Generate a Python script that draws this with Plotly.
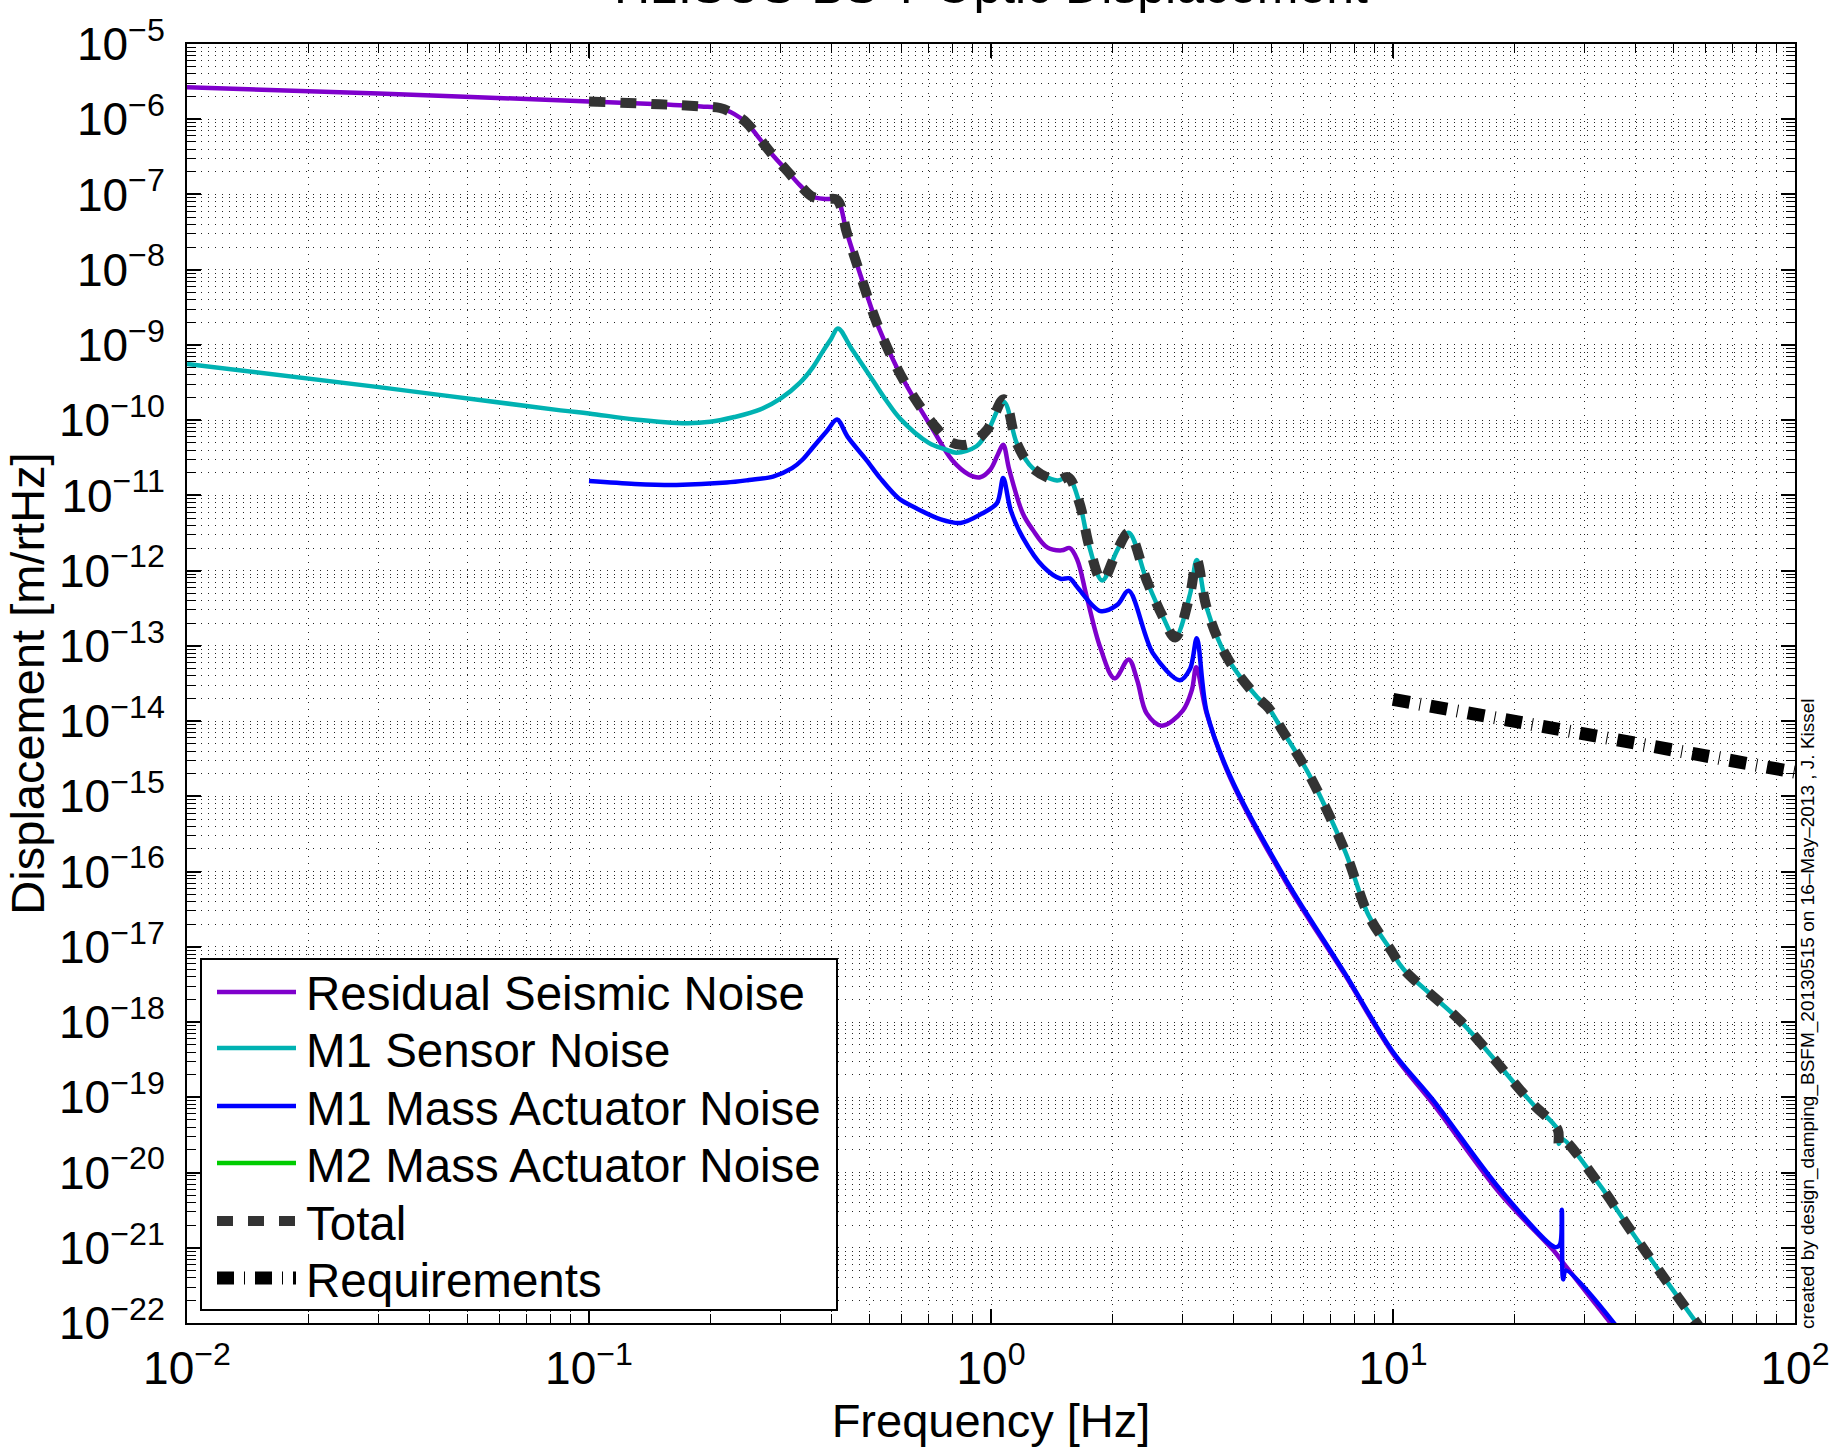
import plotly.graph_objects as go

# ---------------- data ----------------
seis_f = [0.01, 0.03, 0.1, 0.15, 0.19, 0.212, 0.23, 0.247, 0.265, 0.287, 0.31, 0.335, 0.36, 0.39, 0.414,
          0.438, 0.472, 0.52, 0.583, 0.64, 0.718, 0.80, 0.88, 0.94, 0.995, 1.04, 1.072, 1.11, 1.2, 1.27,
          1.38, 1.5, 1.57, 1.64, 1.73, 1.87, 2.03, 2.2, 2.31, 2.44, 2.66, 3.0, 3.16, 3.24, 3.44, 3.94,
          5.43, 7.6, 10, 12.6, 18.5, 25.3, 26.5, 36]
seis_y = [2.66e-6, 2.2e-6, 1.72e-6, 1.58e-6, 1.48e-6, 1.41e-6, 1.17e-6, 8.9e-7, 5.6e-7, 3.3e-7, 2.1e-7,
          1.32e-7, 9.3e-8, 8.7e-8, 8.5e-8, 3.1e-8, 8.9e-9, 1.95e-9, 5.0e-10, 2.04e-10, 7.4e-11, 2.95e-11,
          1.9e-11, 1.74e-11, 2.19e-11, 3.5e-11, 4.7e-11, 2.2e-11, 5.75e-12, 3.5e-12, 2.04e-12, 1.86e-12,
          2.0e-12, 1.38e-12, 4.5e-13, 9.5e-14, 3.7e-14, 6.6e-14, 3.5e-14, 1.26e-14, 8.7e-15, 1.38e-14,
          2.6e-14, 5.2e-14, 1.26e-14, 1.74e-15, 7.1e-17, 4.2e-18, 3.8e-19, 8.1e-20, 5.2e-21, 8.7e-22,
          6.3e-22, 7.9e-23]

sens_f = [0.01, 0.03, 0.085, 0.1, 0.13, 0.175, 0.2, 0.23, 0.266, 0.3, 0.335, 0.36, 0.38, 0.40, 0.416, 0.45,
          0.508, 0.55, 0.594, 0.70, 0.77, 0.82, 0.92, 0.977, 1.076, 1.16, 1.27, 1.46, 1.556, 1.66, 1.76,
          1.89, 2.06, 2.2, 2.44, 2.68, 2.87, 3.13, 3.25, 3.44, 3.86, 4.59, 4.9, 5.3, 6.2, 7.6, 8.7, 9.9,
          10.6, 14.8, 20.7, 22.3, 25.7, 25.85, 26.3, 32.7, 39.5, 48.1, 58]
sens_y = [5.6e-10, 2.75e-10, 1.35e-10, 1.23e-10, 1.02e-10, 9.1e-11, 9.5e-11, 1.1e-10, 1.38e-10, 1.95e-10,
          3.16e-10, 5.0e-10, 7.9e-10, 1.2e-9, 1.66e-9, 8.9e-10, 3.4e-10, 1.8e-10, 1.05e-10, 5.0e-11,
          4.1e-11, 3.7e-11, 4.5e-11, 6.8e-11, 1.74e-10, 4.9e-11, 2.3e-11, 1.58e-11, 1.74e-11, 7.9e-12,
          2.0e-12, 7.4e-13, 1.86e-12, 3.2e-12, 7.4e-13, 2.4e-13, 1.29e-13, 5.0e-13, 1.38e-12, 3.2e-13,
          7.1e-14, 2.1e-14, 1.5e-14, 7.6e-15, 1.9e-15, 1.86e-16, 2.6e-17, 8.9e-18, 5.1e-18, 1.0e-18,
          1.26e-19, 8.1e-20, 3.7e-20, 2.4e-20, 2.8e-20, 6.8e-21, 1.55e-21, 3.5e-22, 8.7e-23]

m1act_f = [0.1, 0.13, 0.165, 0.22, 0.25, 0.287, 0.32, 0.34, 0.36, 0.39, 0.414, 0.44, 0.49, 0.53, 0.59,
           0.65, 0.75, 0.84, 0.95, 1.035, 1.072, 1.12, 1.2, 1.35, 1.49, 1.57, 1.64, 1.87, 2.06, 2.2, 2.53,
           2.95, 3.13, 3.25, 3.44, 3.94, 5.43, 7.6, 10, 12.6, 18.5, 25.3, 26.0, 26.3, 26.5, 26.9, 36.3]
m1act_y = [1.55e-11, 1.42e-11, 1.38e-11, 1.48e-11, 1.6e-11, 1.78e-11, 2.3e-11, 3.0e-11, 4.3e-11, 7.1e-11,
           1.02e-10, 6.0e-11, 2.95e-11, 1.7e-11, 9.1e-12, 6.8e-12, 4.8e-12, 4.3e-12, 5.75e-12, 7.9e-12,
           1.7e-11, 6.3e-12, 2.75e-12, 1.12e-12, 7.8e-13, 7.9e-13, 6.0e-13, 2.9e-13, 3.5e-13, 5.4e-13,
           7.9e-14, 3.5e-14, 5.0e-14, 1.26e-13, 1.32e-14, 1.82e-15, 7.6e-17, 4.4e-18, 4.0e-19, 9.1e-20,
           5.9e-21, 1.02e-21, 1.1e-21, 3.2e-21, 3.8e-22, 5.0e-22, 8.5e-23]

# M2 mass actuator noise never appears inside the displayed range (legend entry only)
m2act_f = [None]
m2act_y = [None]

total_f = [0.1, 0.15, 0.19, 0.212, 0.23, 0.247, 0.265, 0.287, 0.31, 0.335, 0.36, 0.39, 0.414, 0.438, 0.472,
           0.52, 0.583, 0.64, 0.718, 0.80, 0.88, 0.977, 1.076, 1.16, 1.27, 1.46, 1.556, 1.66, 1.76, 1.89,
           2.06, 2.2, 2.44, 2.68, 2.87, 3.13, 3.25, 3.44, 3.86, 4.59, 4.9, 5.3, 6.2, 7.6, 8.7, 9.9, 10.6,
           14.8, 20.7, 22.3, 25.7, 25.85, 26.3, 32.7, 39.5, 48.1, 58]
total_y = [1.72e-6, 1.58e-6, 1.48e-6, 1.41e-6, 1.17e-6, 8.9e-7, 5.6e-7, 3.3e-7, 2.1e-7, 1.32e-7, 9.3e-8,
           8.7e-8, 8.5e-8, 3.1e-8, 8.9e-9, 1.95e-9, 5.0e-10, 2.1e-10, 8.9e-11, 5.0e-11, 4.8e-11, 7.4e-11,
           1.9e-10, 4.9e-11, 2.3e-11, 1.58e-11, 1.74e-11, 7.9e-12, 2.0e-12, 7.4e-13, 1.86e-12, 3.2e-12,
           7.4e-13, 2.4e-13, 1.29e-13, 5.0e-13, 1.38e-12, 3.2e-13, 7.1e-14, 2.1e-14, 1.5e-14, 7.6e-15,
           1.9e-15, 1.86e-16, 2.6e-17, 8.9e-18, 5.1e-18, 1.0e-18, 1.26e-19, 8.1e-20, 3.7e-20, 2.4e-20,
           2.8e-20, 6.8e-21, 1.55e-21, 3.5e-22, 8.7e-23]

req_f = [10, 20, 50, 100]
req_y = [1.95e-14, 1.0e-14, 4.2e-15, 2.1e-15]

series_names = ['Residual Seismic Noise', 'M1 Sensor Noise', 'M1 Mass Actuator Noise',
                'M2 Mass Actuator Noise', 'Total', 'Requirements']

x_tickvals = [0.01, 0.1, 1, 10, 100]
x_ticktext = ['10<sup>−2</sup>', '10<sup>−1</sup>', '10<sup>0</sup>', '10<sup>1</sup>', '10<sup>2</sup>']
y_exponents = list(range(-22, -4))
y_tickvals = [10.0 ** e for e in y_exponents]
y_ticktext = ['10<sup>%s</sup>' % str(e).replace('-', '−') for e in y_exponents]

title_text = 'H1:SUS-BS T Optic Displacement'
stamp_text = 'created by design_damping_BSFM_20130515 on 16–May–2013 , J. Kissel'

# ---------------- styles ----------------
FONT = 'Liberation Sans, Arial, Helvetica, sans-serif'
styles = [
    dict(color='#7F00CC', width=4.5),
    dict(color='#00B2B2', width=4.5),
    dict(color='#0000FF', width=4.5),
    dict(color='#00CC00', width=4.5),
    dict(color='#333333', width=10, dash='16px,15px'),
    dict(color='#000000', width=13, dash='17px,10px,1px,10px'),
]
smooth = [1.0, 1.0, 0.9, None, 1.0, None]
data = [(seis_f, seis_y), (sens_f, sens_y), (m1act_f, m1act_y), (m2act_f, m2act_y),
        (total_f, total_y), (req_f, req_y)]

fig = go.Figure()
for (fx, fy), name, st, sm in zip(data, series_names, styles, smooth):
    line = dict(st)
    if sm is not None:
        line.update(shape='spline', smoothing=sm)
    fig.add_trace(go.Scatter(x=fx, y=fy, mode='lines', name=name, line=line, showlegend=False))

minor_x = [m * 10.0 ** e for e in range(-2, 2) for m in range(2, 10)]
minor_y = [m * 10.0 ** e for e in range(-22, -5) for m in range(2, 10)]

GRID = dict(showgrid=True, gridcolor='rgba(0,0,0,0.85)', gridwidth=1, griddash='1px,6px')

fig.update_xaxes(type='log', range=[-2, 2], tickmode='array', tickvals=x_tickvals, ticktext=x_ticktext,
                 ticks='inside', ticklen=14, tickwidth=1.5, tickcolor='black',
                 showline=True, linecolor='black', linewidth=2, mirror='allticks',
                 tickfont=dict(family=FONT, size=46, color='black'), ticklabelstandoff=4,
                 title=dict(text='Frequency [Hz]', font=dict(family=FONT, size=47, color='black'), standoff=2),
                 minor=dict(tickmode='array', tickvals=minor_x, ticks='inside', ticklen=9, tickwidth=1,
                            tickcolor='black', **GRID),
                 zeroline=False, **GRID)
fig.update_yaxes(type='log', range=[-22, -5], tickmode='array', tickvals=y_tickvals, ticktext=y_ticktext,
                 ticks='inside', ticklen=14, tickwidth=1.5, tickcolor='black',
                 showline=True, linecolor='black', linewidth=2, mirror='allticks',
                 tickfont=dict(family=FONT, size=46, color='black'), ticklabelstandoff=11,
                 title=dict(text='Displacement [m/rtHz]', font=dict(family=FONT, size=47, color='black'), standoff=0),
                 minor=dict(tickmode='array', tickvals=minor_y, ticks='inside', ticklen=9, tickwidth=1,
                            tickcolor='black', **GRID),
                 zeroline=False, **GRID)

# ---------------- legend drawn in the lower-left corner (pixel layout -> paper coords) ----------------
PL, PR, PT, PB = 187, 1795, 44, 1323
def px(x):
    return (x - PL) / (PR - PL)
def py(y):
    return (PB - y) / (PB - PT)

shapes = [dict(type='rect', xref='paper', yref='paper', x0=px(201), x1=px(837), y0=py(1310), y1=py(959),
               fillcolor='white', line=dict(color='black', width=2), layer='above')]
annotations = []
row_y = [992, 1048, 1106, 1163, 1221, 1278]
for name, st, ry in zip(series_names, styles, row_y):
    shapes.append(dict(type='line', xref='paper', yref='paper', x0=px(217), x1=px(296), y0=py(ry), y1=py(ry),
                       line=dict(color=st['color'], width=st['width'], dash=st.get('dash', 'solid')),
                       layer='above'))
    annotations.append(dict(text=name, xref='paper', yref='paper', x=px(304), y=py(ry + 2),
                            xanchor='left', yanchor='middle', showarrow=False,
                            font=dict(family=FONT, size=47.5, color='black')))

annotations.append(dict(text=title_text, xref='paper', yref='paper', x=0.5, y=1 + 58 / 1279,
                        xanchor='center', yanchor='middle', showarrow=False,
                        font=dict(family=FONT, size=50, color='black')))
annotations.append(dict(text=stamp_text, xref='paper', yref='paper', x=1 + 13 / 1608, y=py(1013),
                        xanchor='center', yanchor='middle', textangle=-90, showarrow=False,
                        font=dict(family=FONT, size=19, color='black')))

fig.update_layout(
    width=1832, height=1454,
    margin=dict(l=PL, r=1832 - PR, t=PT, b=1454 - PB, autoexpand=False),
    paper_bgcolor='white', plot_bgcolor='white',
    font=dict(family=FONT, color='black'),
    showlegend=False,
    shapes=shapes,
    annotations=annotations,
)

fig.write_html('out.html')
